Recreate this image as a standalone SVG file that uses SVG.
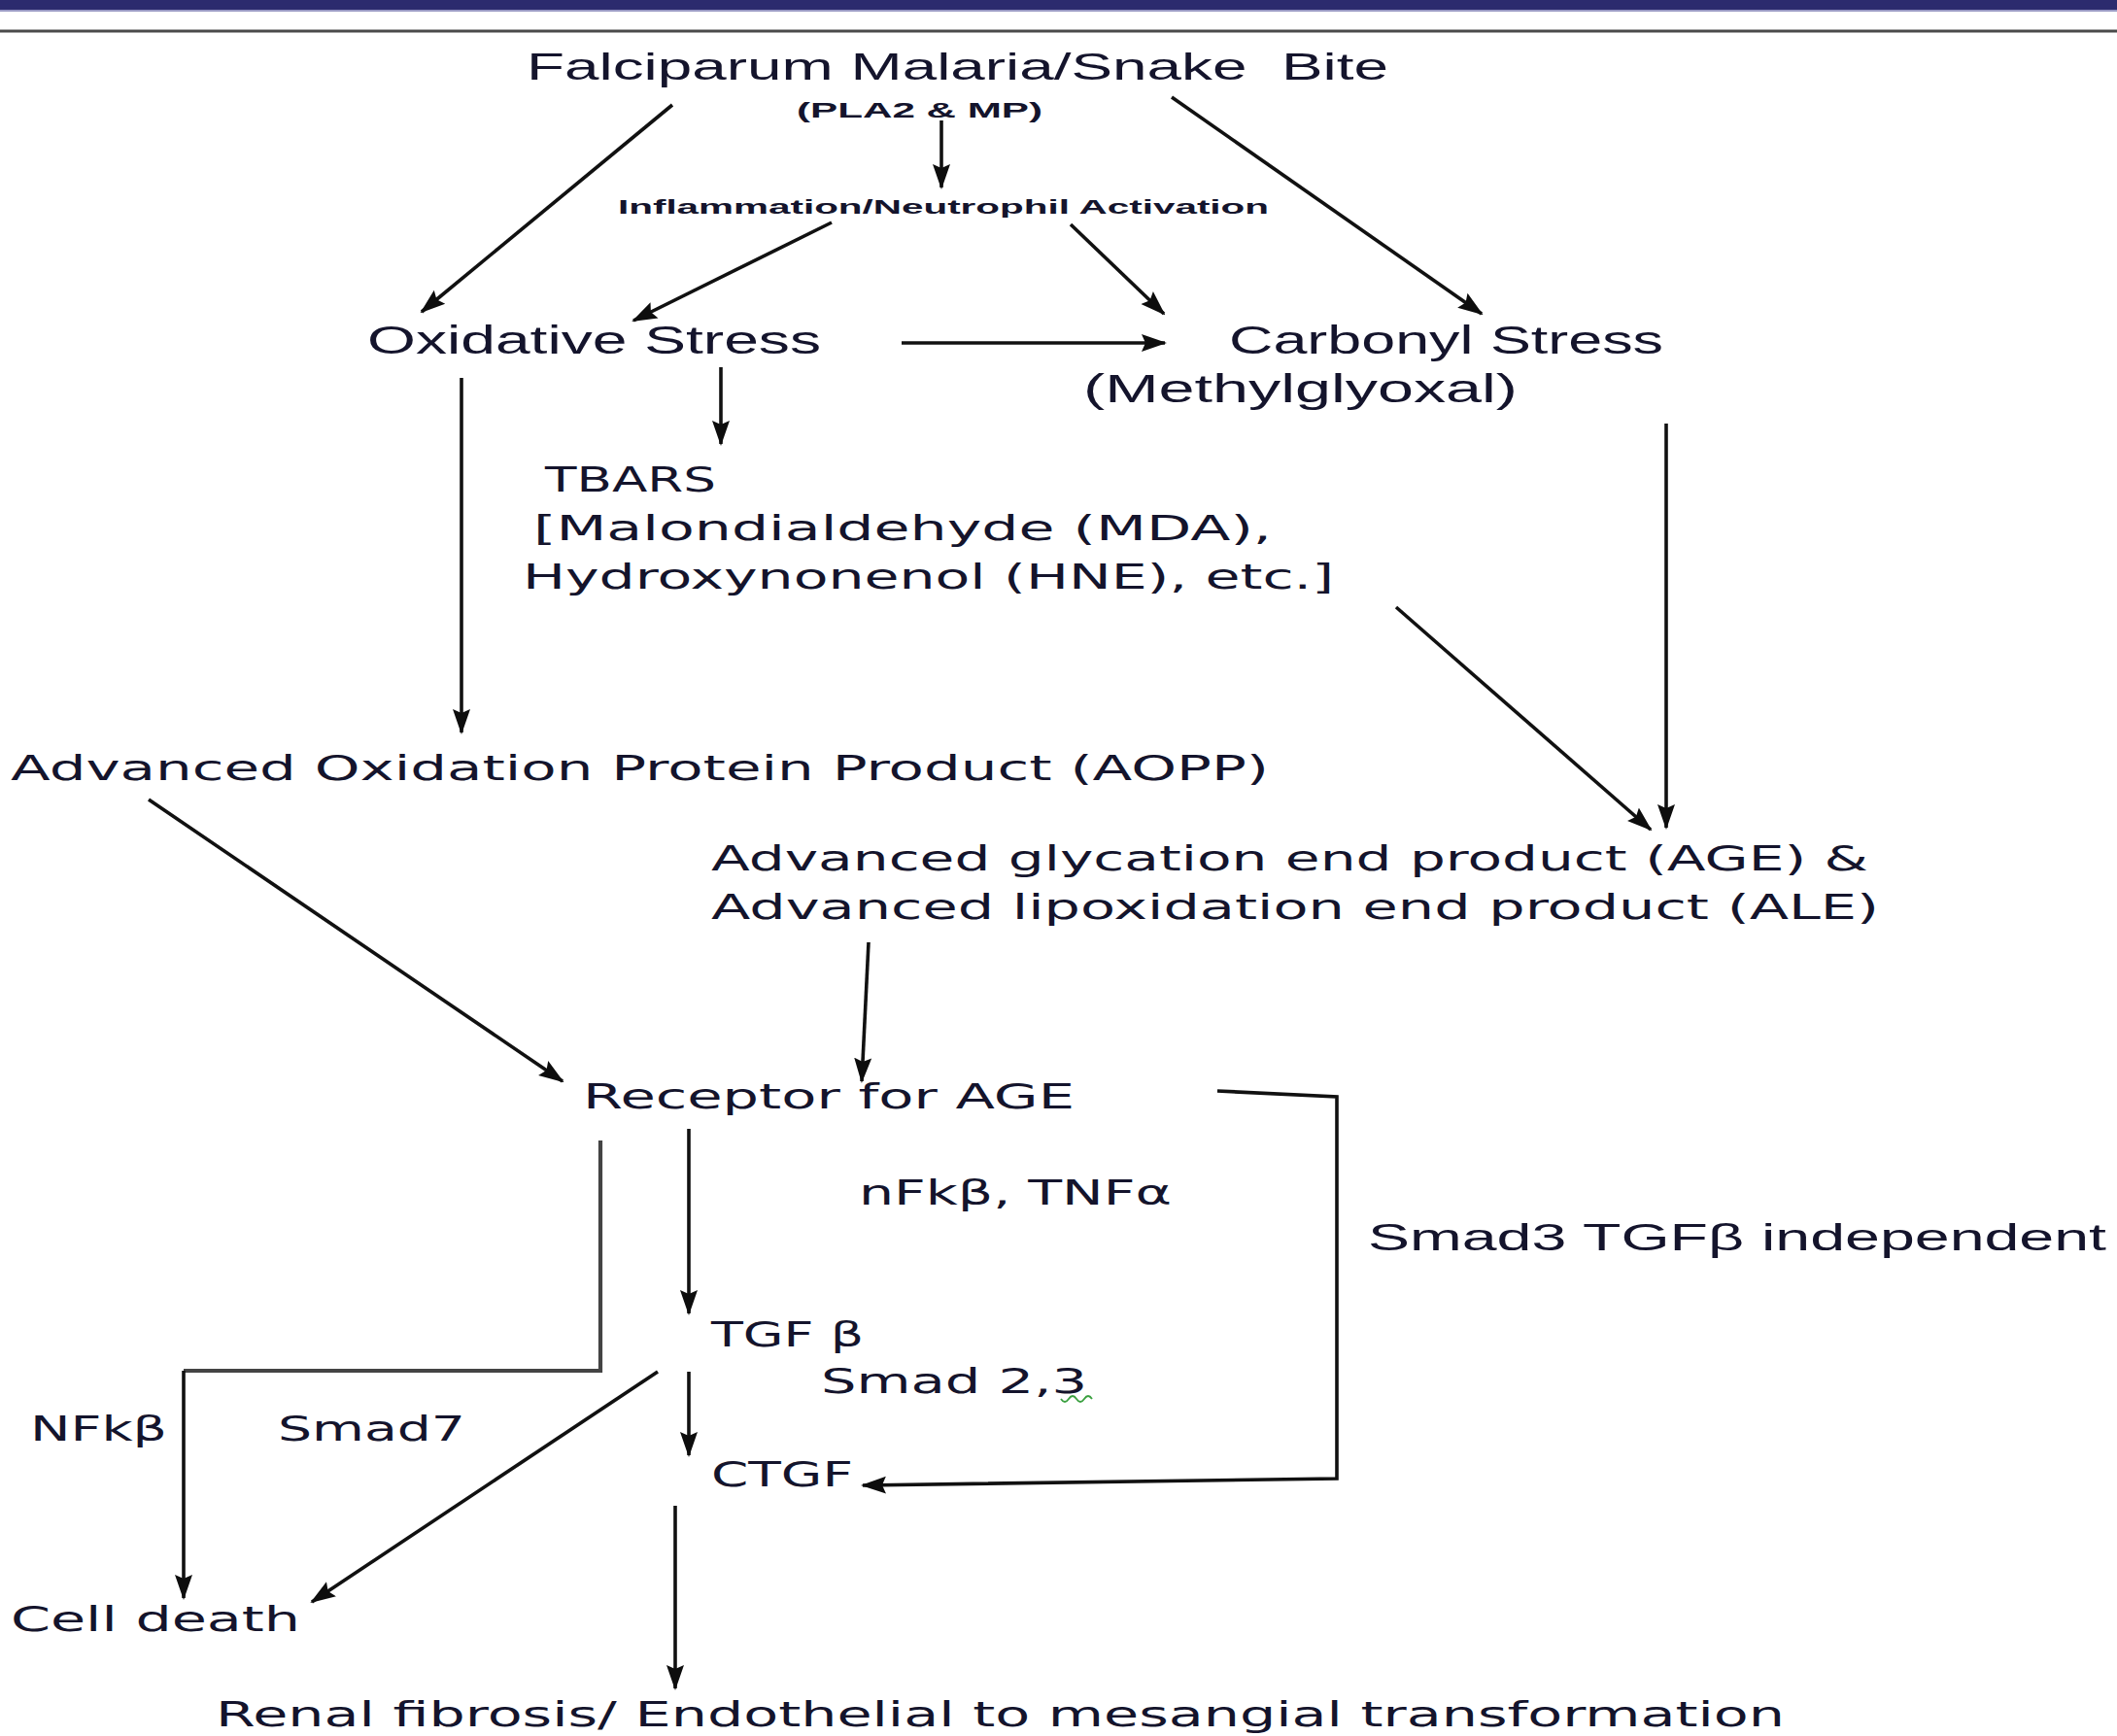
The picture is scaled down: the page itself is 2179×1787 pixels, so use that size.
<svg xmlns="http://www.w3.org/2000/svg" width="2179" height="1787" viewBox="0 0 2179 1787">
<defs>
<marker id="ah" markerUnits="userSpaceOnUse" markerWidth="26" markerHeight="22" viewBox="0 0 26 22" refX="24" refY="11" orient="auto">
<path d="M0,2 L26,11 L0,20 L4,11 Z" fill="#0d0d0d"/>
</marker>
<style>
text{fill:#14142c;white-space:pre}
.c{font-family:"Liberation Sans","Open Sans",Arial,sans-serif}
.v{font-family:"DejaVu Sans",Verdana,sans-serif;font-size:35px}
.ln{fill:none;stroke:#111;stroke-width:3.6}
.gr{stroke:#444;stroke-width:4.2}
.ar{marker-end:url(#ah)}
</style>
</defs>
<rect width="2179" height="1787" fill="#ffffff"/>
<rect x="0" y="0" width="2179" height="10" fill="#2c2b6e"/>
<line x1="0" y1="11" x2="2179" y2="11" stroke="#9a9ac4" stroke-width="2"/>
<line x1="0" y1="32" x2="2179" y2="32" stroke="#4a4a4a" stroke-width="3"/>

<g id="connectors">
<line class="ln ar" x1="969" y1="124" x2="969" y2="193"/>
<line class="ln ar" x1="692" y1="108" x2="434" y2="321"/>
<line class="ln ar" x1="1206" y1="100" x2="1525" y2="323"/>
<line class="ln ar" x1="856" y1="229" x2="652" y2="330"/>
<line class="ln ar" x1="1102" y1="231" x2="1198" y2="323"/>
<line class="ln ar" x1="928" y1="353" x2="1199" y2="353" stroke-width="4.6"/>
<line class="ln ar" x1="742" y1="378" x2="742" y2="457"/>
<line class="ln ar" x1="475" y1="389" x2="475" y2="754"/>
<line class="ln ar" x1="1715" y1="436" x2="1715" y2="852"/>
<line class="ln ar" x1="1437" y1="625" x2="1699" y2="854"/>
<line class="ln ar" x1="153" y1="823" x2="579" y2="1113"/>
<line class="ln ar" x1="894" y1="970" x2="887" y2="1113"/>
<line class="ln ar" x1="709" y1="1162" x2="709" y2="1352"/>
<polyline class="ln gr" points="618,1174 618,1411 189,1411"/>
<line class="ln ar" x1="189" y1="1411" x2="189" y2="1645"/>
<line class="ln ar" x1="709" y1="1412" x2="709" y2="1498"/>
<line class="ln ar" x1="677" y1="1412" x2="321" y2="1649"/>
<line class="ln ar" x1="695" y1="1550" x2="695" y2="1738"/>
<polyline class="ln ar" points="1253,1123 1376,1129 1376,1522 888,1529"/>
</g>

<g id="n-falciparum"><text class="c" x="542" y="82" font-size="38" textLength="887" lengthAdjust="spacingAndGlyphs">Falciparum Malaria/Snake  Bite</text></g>
<g id="n-pla2"><text class="c" x="820" y="121" font-size="22" font-weight="bold" textLength="253" lengthAdjust="spacingAndGlyphs">(PLA2 &amp; MP)</text></g>
<g id="n-inflammation"><text class="c" x="636" y="220" font-size="20" font-weight="bold" textLength="670" lengthAdjust="spacingAndGlyphs">Inflammation/Neutrophil Activation</text></g>
<g id="n-oxidative"><text class="c" x="378" y="364" font-size="40" textLength="467" lengthAdjust="spacingAndGlyphs">Oxidative Stress</text></g>
<g id="n-carbonyl">
<text class="c" x="1265" y="364" font-size="40" textLength="447" lengthAdjust="spacingAndGlyphs">Carbonyl Stress</text>
<text class="c" x="1115" y="414" font-size="40" textLength="447" lengthAdjust="spacingAndGlyphs">(Methylglyoxal)</text>
</g>
<g id="n-tbars">
<text class="v" x="561" y="506" textLength="176" lengthAdjust="spacingAndGlyphs">TBARS</text>
<text class="v" x="549" y="556" textLength="760" lengthAdjust="spacingAndGlyphs">[Malondialdehyde (MDA),</text>
<text class="v" x="538" y="606" textLength="835" lengthAdjust="spacingAndGlyphs">Hydroxynonenol (HNE), etc.]</text>
</g>
<g id="n-aopp"><text class="v" x="11" y="803" textLength="1295" lengthAdjust="spacingAndGlyphs">Advanced Oxidation Protein Product (AOPP)</text></g>
<g id="n-age">
<text class="v" x="732" y="896" textLength="1191" lengthAdjust="spacingAndGlyphs">Advanced glycation end product (AGE) &amp;</text>
<text class="v" x="732" y="946" textLength="1202" lengthAdjust="spacingAndGlyphs">Advanced lipoxidation end product (ALE)</text>
</g>
<g id="n-receptor"><text class="v" x="600" y="1141" textLength="506" lengthAdjust="spacingAndGlyphs">Receptor for AGE</text></g>
<g id="l-nfkb-tnf"><text class="v" x="884" y="1240" textLength="322" lengthAdjust="spacingAndGlyphs">nFkβ, TNFα</text></g>
<g id="l-smad3"><text class="c" x="1408" y="1287" font-size="38" textLength="760" lengthAdjust="spacingAndGlyphs">Smad3 TGFβ independent</text></g>
<g id="n-tgf"><text class="v" x="732" y="1386" textLength="157" lengthAdjust="spacingAndGlyphs">TGF β</text></g>
<g id="l-smad23">
<text class="v" x="845" y="1434" textLength="274" lengthAdjust="spacingAndGlyphs">Smad 2,3</text>
<path d="M1092,1440 q4,6 8,0 q4,-6 8,0 q4,6 8,0 q4,-6 8,0" fill="none" stroke="#3aa040" stroke-width="1.8"/>
</g>
<g id="l-nfkb"><text class="v" x="31" y="1483" textLength="141" lengthAdjust="spacingAndGlyphs">NFkβ</text></g>
<g id="l-smad7"><text class="v" x="286" y="1483" textLength="193" lengthAdjust="spacingAndGlyphs">Smad7</text></g>
<g id="n-ctgf"><text class="v" x="732" y="1530" textLength="146" lengthAdjust="spacingAndGlyphs">CTGF</text></g>
<g id="n-celldeath"><text class="v" x="11" y="1679" textLength="298" lengthAdjust="spacingAndGlyphs">Cell death</text></g>
<g id="n-renal"><text class="v" x="222" y="1777" textLength="1615" lengthAdjust="spacingAndGlyphs">Renal fibrosis/ Endothelial to mesangial transformation</text></g>
</svg>
